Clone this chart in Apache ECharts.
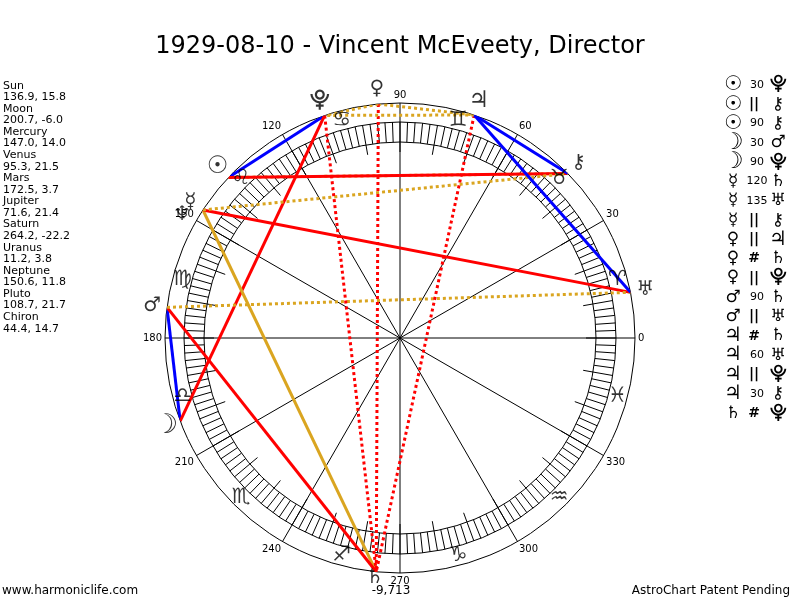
<!DOCTYPE html>
<html>
<head>
<meta charset="utf-8">
<title>AstroChart</title>
<script src="https://cdn.jsdelivr.net/npm/echarts@6/dist/echarts.min.js"></script>
<style>
  html, body { margin: 0; padding: 0; background: #fff; }
  #chart { width: 800px; height: 600px; }
</style>
</head>
<body>
<div id="chart"></div>
<script>
// planet data (longitude, declination)
var planetNames = ['Sun', 'Moon', 'Mercury', 'Venus', 'Mars', 'Jupiter', 'Saturn', 'Uranus', 'Neptune', 'Pluto', 'Chiron'];
var planetLon = [136.9, 200.7, 147.0, 95.3, 172.5, 71.6, 264.2, 11.2, 150.6, 108.7, 44.4];
var planetDecl = [15.8, -6.0, 14.0, 21.5, 3.7, 21.4, -22.2, 3.8, 11.8, 21.7, 14.7];
var planetGlyphs = ['\u2609', '\u263D', '\u263F', '\u2640', '\u2642', '\u2643', '\u2644', '\u2645', '\u2646', '\u2BD3', '\u26B7'];

// zodiac signs, placed at the middle of each sign
var signGlyphs = ['\u2648', '\u2649', '\u264A', '\u264B', '\u264C', '\u264D', '\u264E', '\u264F', '\u2650', '\u2651', '\u2652', '\u2653'];
var signLon = [15, 45, 75, 105, 135, 165, 195, 225, 255, 285, 315, 345];

// aspects
var aspectFrom = ['Sun', 'Sun', 'Sun', 'Moon', 'Moon', 'Mercury', 'Mercury', 'Mercury', 'Venus', 'Venus', 'Venus', 'Mars', 'Mars', 'Jupiter', 'Jupiter', 'Jupiter', 'Jupiter', 'Saturn'];
var aspectType = ['30', '||', '90', '30', '90', '120', '135', '||', '||', '#', '||', '90', '||', '#', '60', '||', '30', '#'];
var aspectTo = ['Pluto', 'Chiron', 'Chiron', 'Mars', 'Pluto', 'Saturn', 'Uranus', 'Chiron', 'Jupiter', 'Saturn', 'Pluto', 'Saturn', 'Uranus', 'Saturn', 'Uranus', 'Pluto', 'Chiron', 'Pluto'];

var titleText = '1929-08-10 - Vincent McEveety, Director';
var saturnNote = '-9,713';

var R = 235;
var VS = '\uFE0E';
var textFont = '"DejaVu Sans", Verdana, sans-serif';

var aspectStyle = {
    '30':  { color: '#0000ff', type: 'solid' },
    '60':  { color: '#0000ff', type: 'solid' },
    '90':  { color: '#ff0000', type: 'solid' },
    '135': { color: '#ff0000', type: 'solid' },
    '120': { color: '#daa520', type: 'solid' },
    '||':  { color: '#daa520', type: [3, 3] },
    '#':   { color: '#ff0000', type: [3, 3] }
};

// some glyphs come out small in the fallback font, so bump them
var glyphScale = { Sun: 1.2, Moon: 1.35, Jupiter: 1.15 };

function lonOf(name) {
    return planetLon[planetNames.indexOf(name)];
}
function glyphOf(name) {
    return planetGlyphs[planetNames.indexOf(name)] + VS;
}
function glyphSize(name, base) {
    return Math.round(base * (glyphScale[name] || 1));
}

var chart = echarts.init(document.getElementById('chart'));

function hiddenRadius(idx, max) {
    return { polarIndex: idx, type: 'value', min: 0, max: max, show: false,
             axisLine: { show: false }, axisLabel: { show: false }, axisTick: { show: false }, splitLine: { show: false } };
}

var center = [400, 338];

var series = [];
aspectFrom.forEach(function (from, i) {
    var st = aspectStyle[aspectType[i]];
    series.push({
        type: 'line',
        coordinateSystem: 'polar',
        polarIndex: 0,
        symbol: 'none',
        clip: false,
        silent: true,
        z: 5,
        lineStyle: { color: st.color, width: 3, type: st.type },
        data: [[R, lonOf(from)], [R, lonOf(aspectTo[i])]]
    });
});

series.push({
    type: 'scatter',
    coordinateSystem: 'polar',
    polarIndex: 0,
    symbolSize: 0,
    clip: false,
    silent: true,
    z: 6,
    label: {
        show: true, position: 'inside',
        formatter: function (p) { return signGlyphs[p.dataIndex] + VS; },
        color: '#000', fontSize: 21, fontFamily: textFont
    },
    data: signLon.map(function (l) { return [225, l]; })
});

series.push({
    type: 'scatter',
    coordinateSystem: 'polar',
    polarIndex: 0,
    symbolSize: 0,
    clip: false,
    silent: true,
    z: 7,
    label: {
        show: true, position: 'inside',
        formatter: function (p) { return planetGlyphs[p.dataIndex] + VS; },
        color: '#000', fontSize: 20, fontWeight: 'bold', fontFamily: textFont
    },
    data: planetLon.map(function (l, i) {
        var name = planetNames[i];
        var item = { value: [250, l], label: { fontSize: glyphSize(name, 20) } };
        // Saturn glyph is lifted a little to leave room for the note below it
        if (name === 'Saturn') item.label.offset = [0, -9];
        return item;
    })
});

// left column text
var leftLines = [];
planetNames.forEach(function (n, i) {
    leftLines.push(n);
    leftLines.push(planetLon[i].toFixed(1) + ', ' + planetDecl[i].toFixed(1));
});

var graphics = [
    { type: 'text', x: 3, y: 80, style: { text: leftLines.join('\n'), font: '11px ' + textFont, fill: '#000', lineHeight: 11.57 } },
    { type: 'text', x: 2, y: 591, style: { text: 'www.harmoniclife.com', font: '12px ' + textFont, fill: '#000', verticalAlign: 'middle' } },
    { type: 'text', x: 790, y: 591, style: { text: 'AstroChart Patent Pending', font: '12px ' + textFont, fill: '#000', align: 'right', verticalAlign: 'middle' } },
    { type: 'text', x: 391, y: 591, style: { text: saturnNote, font: '12px ' + textFont, fill: '#000', align: 'center', verticalAlign: 'middle' } }
];

// right column aspect list
aspectFrom.forEach(function (from, i) {
    var y = 85 + i * 19.3;
    var t = aspectType[i];
    var to = aspectTo[i];
    var isSym = (t === '||' || t === '#');
    graphics.push({ type: 'text', x: 733, y: y, style: { text: glyphOf(from), font: 'bold ' + glyphSize(from, 17) + 'px ' + textFont, fill: '#000', align: 'center', verticalAlign: 'middle' } });
    graphics.push({ type: 'text', x: isSym ? 754 : 757, y: y, style: { text: t, font: (isSym ? 'bold 14px ' : '11px ') + textFont, fill: '#000', align: 'center', verticalAlign: 'middle' } });
    graphics.push({ type: 'text', x: 778, y: y, style: { text: glyphOf(to), font: 'bold ' + glyphSize(to, 17) + 'px ' + textFont, fill: '#000', align: 'center', verticalAlign: 'middle' } });
});

var option = {
    animation: false,
    backgroundColor: '#fff',
    title: {
        text: titleText,
        left: 'center',
        top: 30,
        textStyle: { fontFamily: textFont, fontSize: 24, fontWeight: 'normal', color: '#000' }
    },
    polar: [
        { center: center, radius: [0, R] },
        { center: center, radius: [196, 216] },
        { center: center, radius: [0, 196] }
    ],
    angleAxis: [
        {
            polarIndex: 0, type: 'value', min: 0, max: 360, interval: 30,
            startAngle: 0, clockwise: false,
            axisLine: { show: true, lineStyle: { color: '#000', width: 1 } },
            axisTick: { show: false },
            splitLine: { show: true, lineStyle: { color: '#000', width: 1 } },
            axisLabel: {
                show: true, margin: 3, color: '#000', fontSize: 10, fontFamily: textFont,
                formatter: function (v) { return v >= 360 ? '' : String(v); }
            }
        },
        {
            polarIndex: 1, type: 'value', min: 0, max: 360, interval: 2,
            startAngle: 0, clockwise: false,
            axisLine: { show: true, lineStyle: { color: '#000', width: 1 } },
            axisTick: { show: false },
            splitLine: { show: true, lineStyle: { color: '#000', width: 1 } },
            axisLabel: { show: false }
        },
        {
            polarIndex: 2, type: 'value', min: 0, max: 360, interval: 10,
            startAngle: 0, clockwise: false,
            axisLine: { show: false },
            axisTick: { show: true, inside: true, length: 10, lineStyle: { color: '#000', width: 1 } },
            splitLine: { show: false },
            axisLabel: { show: false }
        }
    ],
    radiusAxis: [hiddenRadius(0, R), hiddenRadius(1, 1), hiddenRadius(2, 1)],
    graphic: graphics,
    series: series
};

chart.setOption(option);
</script>
</body>
</html>
